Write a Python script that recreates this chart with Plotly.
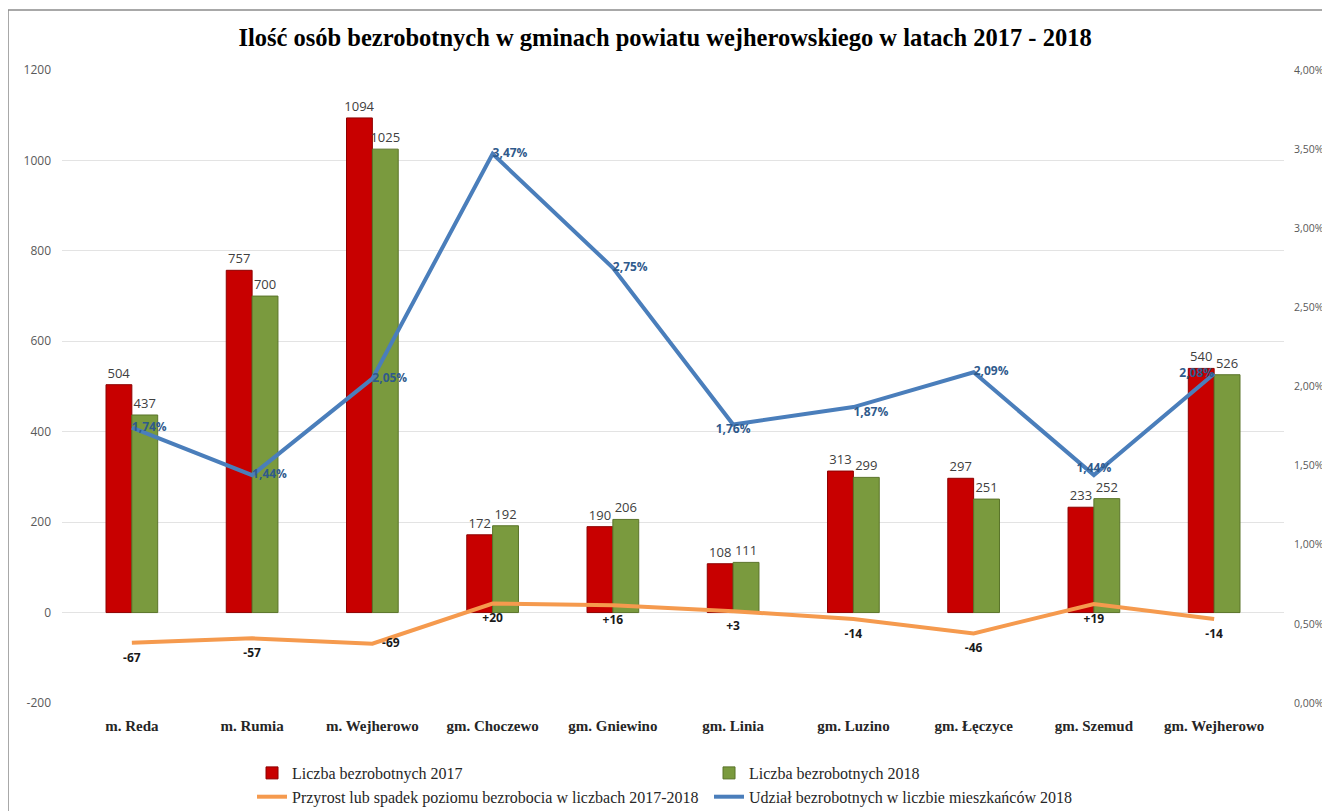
import plotly.graph_objects as go

# --- data -----------------------------------------------------------------
gminy = ["m. Reda", "m. Rumia", "m. Wejherowo", "gm. Choczewo", "gm. Gniewino",
         "gm. Linia", "gm. Luzino", "gm. Łęczyce", "gm. Szemud", "gm. Wejherowo"]
bezrobotni_2017 = [504, 757, 1094, 172, 190, 108, 313, 297, 233, 540]
bezrobotni_2018 = [437, 700, 1025, 192, 206, 111, 299, 251, 252, 526]
zmiana = [-67, -57, -69, 20, 16, 3, -14, -46, 19, -14]
udzial_2018 = [0.0174, 0.0144, 0.0205, 0.0347, 0.0275, 0.0176, 0.0187, 0.0209, 0.0144, 0.0208]

left_ticks = [-200, 0, 200, 400, 600, 800, 1000, 1200]
left_tick_text = ["-200", "0", "200", "400", "600", "800", "1000", "1200"]

# label placement for the line series
udzial_pos = ["middle right", "middle right", "middle right", "middle right", "middle right",
              "bottom center", "bottom right", "middle right", "top center", "middle left"]
zmiana_pos = ["bottom center", "bottom center", "middle right", "bottom center", "bottom center",
              "bottom center", "bottom center", "bottom center", "bottom center", "bottom center"]

SERIF = "Liberation Serif, Times New Roman, serif"
SANS = "Open Sans, Liberation Sans, sans-serif"

# the page body has an 8px margin, so the figure is 8px smaller than the window
W, H = 1322, 803
L, R, T, B = 54, 46, 62, 108
PW, PH = W - L - R, H - T - B

fig = go.Figure()

fig.add_trace(go.Bar(
    x=gminy, y=bezrobotni_2017, name="Liczba bezrobotnych 2017",
    marker=dict(color="#C80000", line=dict(color="#8E0000", width=1)),
    text=[str(v) for v in bezrobotni_2017], textposition="outside", constraintext="none",
    textfont=dict(family=SANS, size=13, color="#404040"), cliponaxis=False,
))
fig.add_trace(go.Bar(
    x=gminy, y=bezrobotni_2018, name="Liczba bezrobotnych 2018",
    marker=dict(color="#7A9A3E", line=dict(color="#5A7429", width=1)),
    text=[str(v) for v in bezrobotni_2018], textposition="outside", constraintext="none",
    textfont=dict(family=SANS, size=13, color="#404040"), cliponaxis=False,
))
# invisible markers only push the labels a little further from the line
fig.add_trace(go.Scatter(
    x=gminy, y=zmiana, name="Przyrost lub spadek poziomu bezrobocia w liczbach 2017-2018",
    mode="lines+markers+text", line=dict(color="#F59A4E", width=4),
    marker=dict(size=14, color="rgba(0,0,0,0)", line=dict(width=0)),
    text=[f"{v:+d}" for v in zmiana], textposition=zmiana_pos,
    textfont=dict(family=SANS, size=12, color="#1a1a1a", weight="bold"),
    cliponaxis=False,
))
fig.add_trace(go.Scatter(
    x=gminy, y=udzial_2018, name="Udział bezrobotnych w liczbie mieszkańców 2018",
    yaxis="y2", mode="lines+text", line=dict(color="#4A7EBB", width=4),
    texttemplate="%{y:.2%}", textposition=udzial_pos,
    textfont=dict(family=SANS, size=12, color="#2F5A8C", weight="bold"),
    cliponaxis=False,
))

fig.update_layout(
    width=W, height=H,
    margin=dict(l=L, r=R, t=T, b=B, autoexpand=False),
    paper_bgcolor="white", plot_bgcolor="white",
    separators=", ",
    barmode="group", bargap=0.57, bargroupgap=0,
    title=dict(
        text="<b>Ilość osób bezrobotnych w gminach powiatu wejherowskiego w latach 2017 - 2018</b>",
        xref="paper", x=0.4935, xanchor="center", y=1 - 29 / H, yanchor="middle",
        font=dict(family=SERIF, size=24.5, color="black"),
    ),
    xaxis=dict(
        tickfont=dict(family=SERIF, size=15, color="#262626", weight="bold"),
        showline=False, ticks="", showgrid=False, automargin=False,
        ticklabelstandoff=12,
    ),
    yaxis=dict(
        range=[-200, 1200], tickvals=left_ticks, ticktext=left_tick_text,
        showgrid=True, gridcolor="#E3E3E3", gridwidth=1, zeroline=False,
        tickfont=dict(family=SANS, size=12, color="#595959"),
        ticks="", ticklabelstandoff=10, automargin=False,
    ),
    yaxis2=dict(
        overlaying="y", side="right", range=[0, 0.04], dtick=0.005,
        tickformat=".2%", showgrid=False, zeroline=False,
        tickfont=dict(family=SANS, size=10.5, color="#595959"),
        ticks="", ticklabelstandoff=9, automargin=False,
    ),
    legend=dict(
        orientation="h", xref="paper", x=0.1555, xanchor="left",
        yref="container", y=1 - 748 / H, yanchor="top",
        entrywidth=412, traceorder="normal",
        font=dict(family=SERIF, size=16, color="#262626"),
        itemwidth=30, tracegroupgap=0,
    ),
    shapes=[
        dict(type="rect", xref="paper", yref="paper",
             x0=-L / PW, x1=(W + 20 - L) / PW,
             y0=-(H + 20 - T - PH) / PH, y1=1 + (T - 2) / PH,
             line=dict(color="#8C8C8C", width=1.5), fillcolor="rgba(0,0,0,0)",
             layer="below"),
    ],
)

fig.write_html("out.html")
